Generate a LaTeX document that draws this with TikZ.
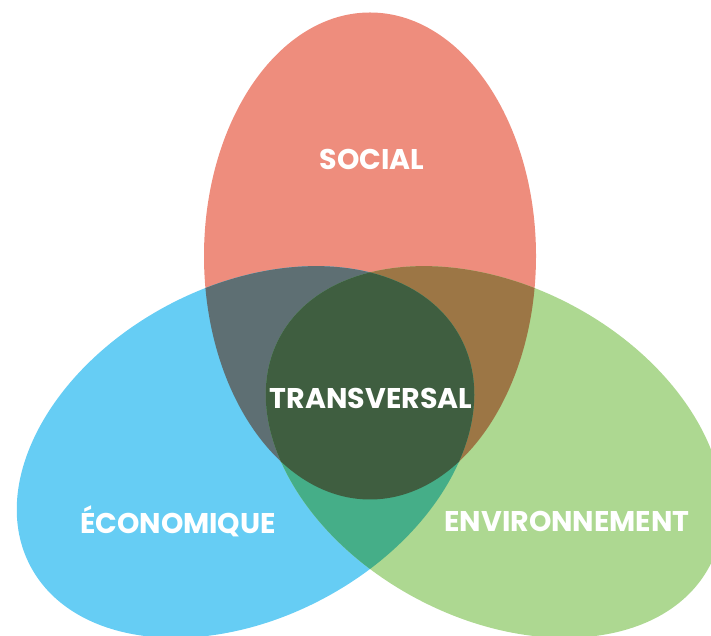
\documentclass[tikz,border=0pt]{standalone}
\usepackage{fontspec}
\setmainfont{Poppins}
\definecolor{cred}{HTML}{EE8D7D}
\definecolor{cblue}{HTML}{66CDF4}
\definecolor{cgreen}{HTML}{ADD891}
\definecolor{credblue}{HTML}{5E6F73}
\definecolor{credgreen}{HTML}{9C7645}
\definecolor{cbluegreen}{HTML}{45AE88}
\definecolor{call}{HTML}{3F5E40}
\tikzset{
  lab/.style={text=white, font=\bfseries\fontsize{28.5}{31}\selectfont, inner sep=0pt},
  bluerot/.style={rotate around={28:(245.5,184)}},
  greenrot/.style={rotate around={-28:(494.5,184)}}
}
\def\redE{(370,380) ellipse [x radius=166pt, y radius=243.5pt]}
\def\blueE{(245.5,184) ellipse [x radius=243.5pt, y radius=166pt]}
\def\greenE{(494.5,184) ellipse [x radius=243.5pt, y radius=166pt]}
\begin{document}
\begin{tikzpicture}[x=1pt,y=1pt]
\useasboundingbox (0,0) rectangle (711,636);
\fill[cred] \redE;
\fill[cblue, bluerot] \blueE;
\fill[cgreen, greenrot] \greenE;
\begin{scope}
  \clip \redE;
  \fill[credblue, bluerot] \blueE;
\end{scope}
\begin{scope}
  \clip \redE;
  \fill[credgreen, greenrot] \greenE;
\end{scope}
\begin{scope}
  \clip[bluerot] \blueE;
  \fill[cbluegreen, greenrot] \greenE;
\end{scope}
\begin{scope}
  \clip \redE;
  \clip[bluerot] \blueE;
  \fill[call, greenrot] \greenE;
\end{scope}
\node[lab] (social) at (372,477) {SOCIAL};
\node[lab] (trans) at (371,238) {TRANSVERSAL};
\node[lab] (eco) at (178,115) {ÉCONOMIQUE};
\node[lab] (env) at (567,115) {ENVIRONNEMENT};
\end{tikzpicture}
\end{document}
